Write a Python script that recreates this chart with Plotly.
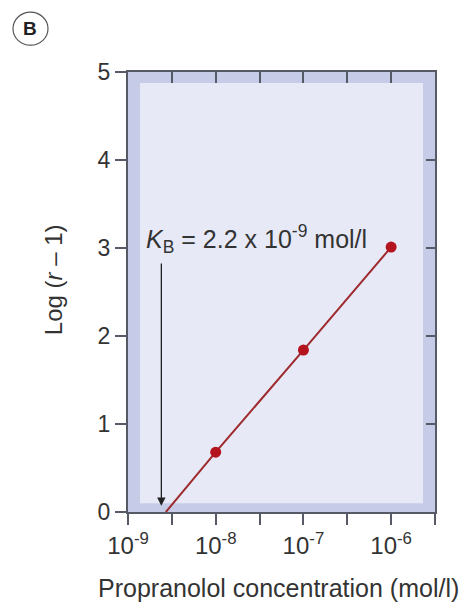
import math
import plotly.graph_objects as go

# ---- data ----
conc_points = [1e-8, 1e-7, 1e-6]          # mol/l
logr_points = [0.68, 1.84, 3.01]           # Log (r - 1)
conc_line = [2.7e-9, 1e-8, 1e-7, 1e-6]     # regression line incl. x-intercept
logr_line = [0.0, 0.68, 1.84, 3.01]

kb_label = "<i>K</i><sub>B</sub> = 2.2 x 10<sup>-9</sup> mol/l"
arrow_conc = [2.4e-9]
arrow_y = [2.84, 0.07]                     # tail, tip

x_tickvals = [1e-9, 10 ** -8.5, 1e-8, 10 ** -7.5, 1e-7, 10 ** -6.5, 1e-6, 10 ** -5.5]
x_ticktext = ["10<sup>-9</sup>", "", "10<sup>-8</sup>", "", "10<sup>-7</sup>", "", "10<sup>-6</sup>", ""]
y_tickvals = [0, 1, 2, 3, 4, 5]
y_ticktext = ["0", "1", "2", "3", "4", "5"]

x_title = "Propranolol concentration (mol/l)"
y_title = "Log (<i>r</i> – 1)"
panel_label = "B"

# ---- styling ----
FONT = "Liberation Sans, Arial, Helvetica, sans-serif"
TXT = "#333333"
FRAME = "#555a66"
BAND = "#c6cce7"
INNER = "#e7e9f7"
LINE_RED = "#9e2a2e"
DOT_RED = "#b3141e"

fig = go.Figure()

fig.add_trace(go.Scatter(
    x=conc_line, y=logr_line, mode="lines",
    line=dict(color=LINE_RED, width=2), showlegend=False, hoverinfo="skip"))
fig.add_trace(go.Scatter(
    x=conc_points, y=logr_points, mode="markers",
    marker=dict(color=DOT_RED, size=11), showlegend=False))
# invisible trace on mirrored (top/right) axes so their inside ticks are drawn
fig.add_trace(go.Scatter(
    x=conc_points, y=logr_points, xaxis="x2", yaxis="y2", mode="none",
    showlegend=False, hoverinfo="skip"))

xrange = [math.log10(x_tickvals[0]), math.log10(x_tickvals[-1])]

common_x = dict(type="log", range=xrange, tickmode="array", tickvals=x_tickvals,
                showgrid=False, zeroline=False, tickcolor=FRAME, tickwidth=1.5)
fig.update_layout(
    width=459, height=603, autosize=False,
    margin=dict(l=128, r=24, t=72, b=91, pad=0),
    paper_bgcolor="white", plot_bgcolor=BAND,
    font=dict(family=FONT, color=TXT),
    xaxis=dict(**common_x, ticktext=x_ticktext, ticks="outside", ticklen=11,
               showline=True, linecolor=FRAME, linewidth=2, mirror=True,
               tickfont=dict(size=24, color=TXT, family=FONT)),
    xaxis2=dict(**common_x, ticktext=x_ticktext, overlaying="x", side="top", anchor="y",
                ticks="inside", ticklen=11, showticklabels=False, showline=False),
    yaxis=dict(range=[0, 5], tickmode="array", tickvals=y_tickvals, ticktext=y_ticktext,
               ticks="outside", ticklen=11, tickcolor=FRAME, tickwidth=1.5,
               showline=True, linecolor=FRAME, linewidth=2, mirror=True,
               showgrid=False, zeroline=False,
               tickfont=dict(size=23, color=TXT, family=FONT)),
    yaxis2=dict(range=[0, 5], tickmode="array", tickvals=y_tickvals, overlaying="y",
                side="right", anchor="x", ticks="inside", ticklen=9, tickcolor=FRAME,
                tickwidth=1.5, showticklabels=False, showline=False, showgrid=False,
                zeroline=False),
)

# lighter inner panel
fig.add_shape(type="rect", xref="x domain", yref="y domain",
              x0=0.039, x1=0.961, y0=0.02, y1=0.975,
              fillcolor=INNER, line=dict(width=0), layer="below")

# axis titles
fig.add_annotation(text=x_title, xref="paper", yref="paper", x=0.489, y=-0.173,
                   xanchor="center", yanchor="middle", showarrow=False,
                   font=dict(size=25, color=TXT, family=FONT))
fig.add_annotation(text=y_title, xref="paper", yref="paper", x=-0.244, y=0.527,
                   xanchor="center", yanchor="middle", textangle=-90, showarrow=False,
                   font=dict(size=24, color=TXT, family=FONT))

# K_B label and arrow
fig.add_annotation(text=kb_label, xref="paper", yref="paper", x=0.052, y=0.62,
                   xanchor="left", yanchor="middle", showarrow=False,
                   font=dict(size=25, color=TXT, family=FONT))
fig.add_annotation(text="", x=math.log10(arrow_conc[0]), y=arrow_y[1],
                   ax=math.log10(arrow_conc[0]), ay=arrow_y[0],
                   xref="x", yref="y", axref="x", ayref="y",
                   showarrow=True, arrowhead=2, arrowsize=1.3, arrowwidth=1.3,
                   arrowcolor="#222222")

# panel label "B" in circle
fig.add_shape(type="circle", xref="paper", yref="paper",
              x0=-0.3746, x1=-0.2606, y0=1.061, y1=1.136,
              line=dict(color="#555555", width=1.2), fillcolor="white")
fig.add_annotation(text="<b>" + panel_label + "</b>", xref="paper", yref="paper",
                   x=-0.3176, y=1.0985, xanchor="center", yanchor="middle",
                   showarrow=False, font=dict(size=19, color="#222222", family=FONT))

fig.write_html("out.html")
